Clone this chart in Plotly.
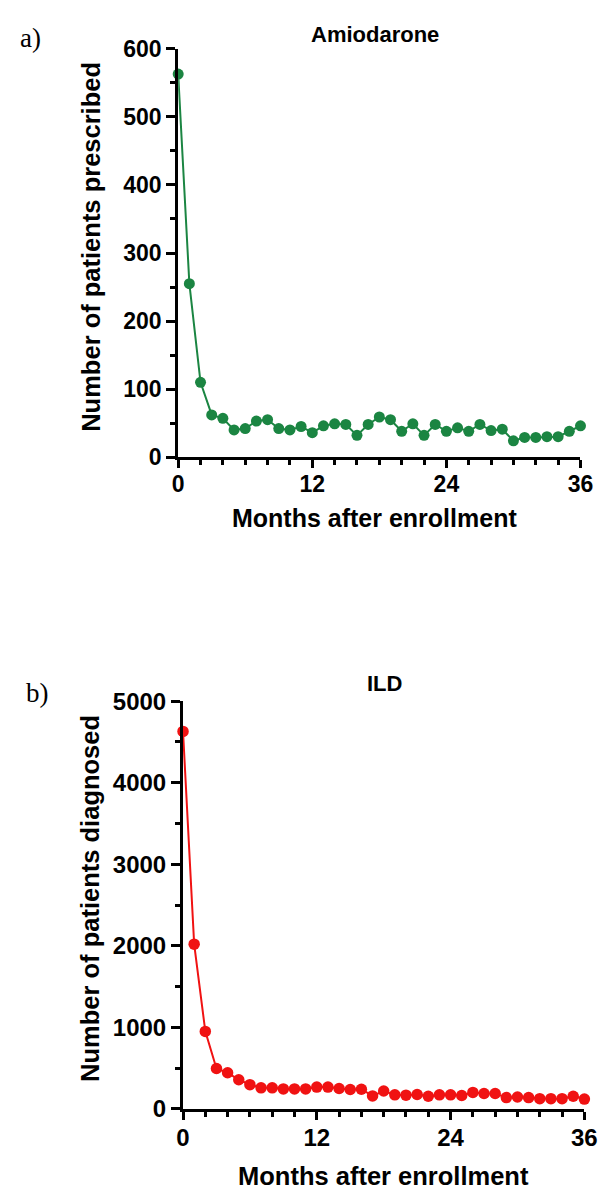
import plotly.graph_objects as go

W, H = 608, 1203

months = list(range(0, 37))
amiodarone = [563, 255, 110, 62, 57, 40, 42, 53, 55, 42, 40, 45, 36, 46, 49, 48, 32, 48,
              59, 55, 38, 49, 32, 48, 38, 43, 38, 48, 39, 41, 24, 29, 29, 30, 30, 38, 46]
ild = [4630, 2020, 950, 495, 443, 357, 297, 258, 258, 245, 245, 245, 267, 267, 250, 237,
       241, 159, 219, 172, 168, 176, 155, 172, 172, 164, 202, 189, 189, 138, 146, 138,
       125, 125, 125, 155, 120]

x_ticks = [0, 12, 24, 36]
x_tick_text = ["0", "12", "24", "36"]
y1_ticks = [0, 100, 200, 300, 400, 500, 600]
y2_ticks = [0, 1000, 2000, 3000, 4000, 5000]

GREEN = "#1b8542"
RED = "#f01212"
FONT = "Liberation Sans, Arial, sans-serif"
SERIF = "Liberation Serif, Times New Roman, serif"


def px_x(p):
    return p / W


def px_y(p):
    return 1 - p / H


fig = go.Figure()
fig.add_trace(go.Scatter(x=months, y=amiodarone, mode="lines+markers",
                         line=dict(color=GREEN, width=2),
                         marker=dict(color=GREEN, size=11),
                         cliponaxis=False, xaxis="x", yaxis="y", showlegend=False))
fig.add_trace(go.Scatter(x=months, y=ild, mode="lines+markers",
                         line=dict(color=RED, width=2),
                         marker=dict(color=RED, size=11.5),
                         cliponaxis=False, xaxis="x2", yaxis="y2", showlegend=False))

common_axis = dict(showline=True, linecolor="black", linewidth=3, showgrid=False,
                   zeroline=False, ticks="outside", tickcolor="black", tickwidth=3,
                   fixedrange=True)

fig.update_layout(
    width=W, height=H,
    margin=dict(l=0, r=0, t=0, b=0),
    paper_bgcolor="white", plot_bgcolor="white",
    xaxis=dict(common_axis, domain=[px_x(177), px_x(593)], range=[0, 36],
               tickvals=x_ticks, ticktext=x_tick_text, ticklen=8,
               ticklabelstandoff=-4,
               tickfont=dict(family=FONT, size=23, color="black", weight="bold"),
               minor=dict(dtick=2, tick0=0, ticklen=5, tickwidth=2.5,
                          tickcolor="black", ticks="outside"),
               anchor="y"),
    yaxis=dict(common_axis, domain=[px_y(453.3), px_y(35.7)], range=[0, 600],
               tickvals=y1_ticks, ticklen=9, ticklabelstandoff=0,
               tickfont=dict(family=FONT, size=23, color="black", weight="bold"),
               minor=dict(dtick=50, tick0=0, ticklen=5, tickwidth=2.5,
                          tickcolor="black", ticks="outside"),
               anchor="x"),
    xaxis2=dict(common_axis, domain=[px_x(182), px_x(597)], range=[0, 36],
                tickvals=x_ticks, ticktext=x_tick_text, ticklen=8,
                ticklabelstandoff=-3,
                tickfont=dict(family=FONT, size=24, color="black", weight="bold"),
                minor=dict(dtick=2, tick0=0, ticklen=5, tickwidth=2.5,
                           tickcolor="black", ticks="outside"),
                anchor="y2"),
    yaxis2=dict(common_axis, domain=[px_y(1120), px_y(703)], range=[0, 5000],
                tickvals=y2_ticks, ticklen=9, ticklabelstandoff=0,
                tickfont=dict(family=FONT, size=24, color="black", weight="bold"),
                minor=dict(dtick=500, tick0=0, ticklen=5, tickwidth=2.5,
                           tickcolor="black", ticks="outside"),
                anchor="x2"),
)

ann = []


def add_text(text, x, y, size, family=FONT, bold=True, angle=0, xanchor="center"):
    ann.append(dict(text=text, x=px_x(x), y=px_y(y), xref="paper", yref="paper",
                    showarrow=False, textangle=angle, xanchor=xanchor, yanchor="middle",
                    font=dict(family=family, size=size, color="black",
                              weight="bold" if bold else "normal")))


add_text("Amiodarone", 380, 21, 22)
add_text("ILD", 390, 685, 22)
add_text("a)", 11, 25, 27, family=SERIF, bold=False, xanchor="left")
add_text("b)", 18, 695, 27, family=SERIF, bold=False, xanchor="left")
add_text("Months after enrollment", 380, 516, 25)
add_text("Months after enrollment", 389, 1189, 25.5)
add_text("Number of patients prescribed", 87, 238, 25.5, angle=-90)
add_text("Number of patients diagnosed", 85, 905, 25.5, angle=-90)
fig.update_layout(annotations=ann)

fig.write_html("out.html")
